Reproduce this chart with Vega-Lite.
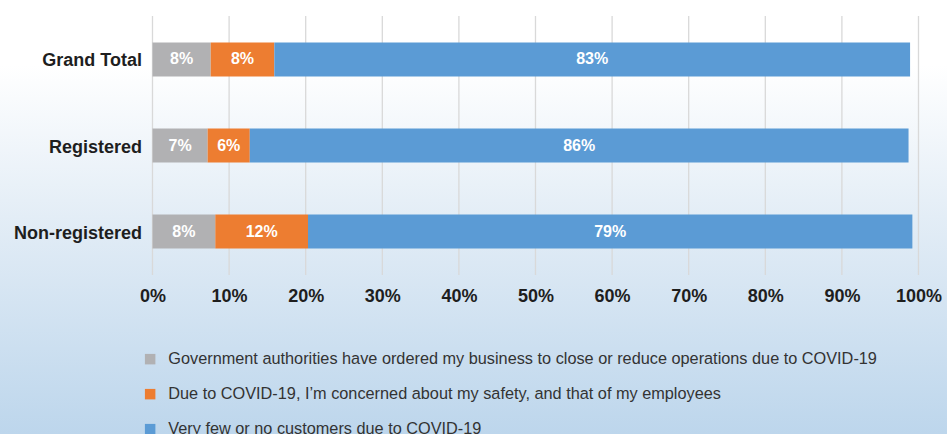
{
  "$schema": "https://vega.github.io/schema/vega-lite/v6.json",
  "width": 766,
  "height": 259,
  "autosize": {"type": "none"},
  "padding": {"left": 152.5, "top": 16, "right": 28.5, "bottom": 159},
  "background": "#ffffff",
  "config": {"view": {"stroke": null}, "font": "Liberation Sans"},
  "datasets": {
    "bars": [
      {"group": "Grand Total", "reason": "Government authorities have ordered my business to close or reduce operations due to COVID-19", "k": 1, "share": 0.076},
      {"group": "Grand Total", "reason": "Due to COVID-19, I’m concerned about my safety, and that of my employees", "k": 2, "share": 0.083},
      {"group": "Grand Total", "reason": "Very few or no customers due to COVID-19", "k": 3, "share": 0.830},
      {"group": "Registered", "reason": "Government authorities have ordered my business to close or reduce operations due to COVID-19", "k": 1, "share": 0.072},
      {"group": "Registered", "reason": "Due to COVID-19, I’m concerned about my safety, and that of my employees", "k": 2, "share": 0.055},
      {"group": "Registered", "reason": "Very few or no customers due to COVID-19", "k": 3, "share": 0.860},
      {"group": "Non-registered", "reason": "Government authorities have ordered my business to close or reduce operations due to COVID-19", "k": 1, "share": 0.082},
      {"group": "Non-registered", "reason": "Due to COVID-19, I’m concerned about my safety, and that of my employees", "k": 2, "share": 0.121},
      {"group": "Non-registered", "reason": "Very few or no customers due to COVID-19", "k": 3, "share": 0.789}
    ],
    "ticks": [
      {"t": 0}, {"t": 0.1}, {"t": 0.2}, {"t": 0.3}, {"t": 0.4}, {"t": 0.5},
      {"t": 0.6}, {"t": 0.7}, {"t": 0.8}, {"t": 0.9}, {"t": 1.0}
    ]
  },
  "layer": [
    {
      "data": {"values": [{}]},
      "mark": {
        "type": "rect",
        "color": {
          "gradient": "linear",
          "x1": 0, "y1": 0, "x2": 0, "y2": 1,
          "stops": [
            {"offset": 0, "color": "#ffffff"},
            {"offset": 0.15, "color": "#ffffff"},
            {"offset": 0.5, "color": "#e3edf6"},
            {"offset": 1, "color": "#bdd6ec"}
          ]
        }
      },
      "encoding": {
        "x": {"datum": -0.1991, "type": "quantitative", "scale": {"domain": [0, 1], "nice": false, "zero": false}, "axis": null},
        "x2": {"datum": 1.0372},
        "y": {"datum": 1.0618, "type": "quantitative", "scale": {"domain": [0, 1], "nice": false, "zero": false}, "axis": null},
        "y2": {"datum": -0.6139}
      }
    },
    {
      "data": {"name": "ticks"},
      "mark": {"type": "rule", "color": "#d9d9d9", "strokeWidth": 1.3},
      "encoding": {
        "x": {"field": "t", "type": "quantitative", "scale": {"domain": [0, 1], "nice": false, "zero": false}, "axis": null}
      }
    },
    {
      "data": {"name": "bars"},
      "mark": {"type": "bar"},
      "encoding": {
        "y": {
          "field": "group", "type": "nominal",
          "sort": ["Grand Total", "Registered", "Non-registered"],
          "scale": {"paddingInner": 0.605, "paddingOuter": 0.3075},
          "axis": {
            "title": null, "ticks": false, "domain": false, "zindex": 1,
            "labelFontSize": 18, "labelFontWeight": "bold", "labelColor": "#1e1e1e",
            "labelPadding": 11, "labelLimit": 300, "labelOffset": 2
          }
        },
        "x": {
          "field": "share", "type": "quantitative", "stack": "zero",
          "scale": {"domain": [0, 1], "nice": false, "zero": false},
          "axis": {
            "title": null, "ticks": false, "domain": false, "grid": false, "zindex": 1,
            "values": [0, 0.1, 0.2, 0.3, 0.4, 0.5, 0.6, 0.7, 0.8, 0.9, 1.0],
            "format": ".0%", "labelFontSize": 18, "labelFontWeight": "bold",
            "labelColor": "#1e1e1e", "labelPadding": 12, "labelFlush": false, "labelOverlap": false
          }
        },
        "order": {"field": "k", "type": "quantitative"},
        "color": {
          "field": "reason", "type": "nominal",
          "scale": {
            "domain": [
              "Government authorities have ordered my business to close or reduce operations due to COVID-19",
              "Due to COVID-19, I’m concerned about my safety, and that of my employees",
              "Very few or no customers due to COVID-19"
            ],
            "range": ["#b1b1b3", "#ed7d31", "#5b9bd5"]
          },
          "legend": {
            "title": null, "orient": "none", "legendX": -10.5, "legendY": 335,
            "direction": "vertical", "padding": 0,
            "symbolType": "square", "symbolSize": 110, "symbolStrokeWidth": 0,
            "labelFontSize": 16.3, "labelColor": "#333333", "labelOffset": 10,
            "rowPadding": 18, "labelLimit": 1000
          }
        }
      }
    },
    {
      "data": {"name": "bars"},
      "mark": {"type": "text", "color": "#ffffff", "fontSize": 16, "fontWeight": "bold", "align": "center", "baseline": "middle"},
      "encoding": {
        "y": {
          "field": "group", "type": "nominal",
          "sort": ["Grand Total", "Registered", "Non-registered"],
          "scale": {"paddingInner": 0.605, "paddingOuter": 0.3075},
          "axis": null
        },
        "x": {
          "field": "share", "type": "quantitative", "stack": "zero", "bandPosition": 0.5,
          "scale": {"domain": [0, 1], "nice": false, "zero": false},
          "axis": null
        },
        "order": {"field": "k", "type": "quantitative"},
        "text": {"field": "share", "type": "quantitative", "format": ".0%"}
      }
    }
  ],
  "resolve": {"scale": {"x": "independent", "y": "independent"}}
}
